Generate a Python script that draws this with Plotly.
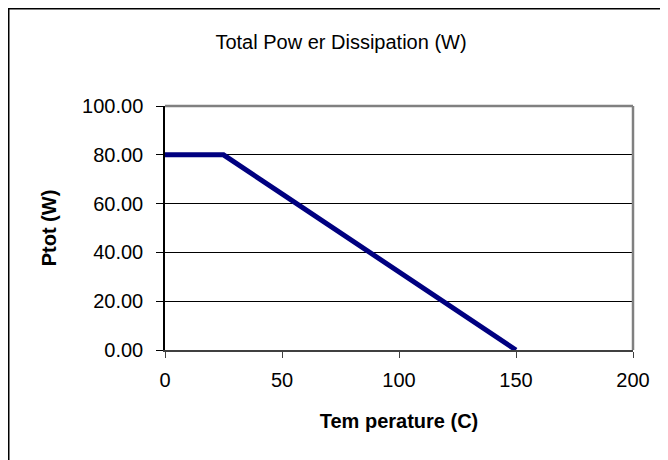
import plotly.graph_objects as go

temperature = [0, 25, 50, 75, 100, 125, 150]
ptot = [80, 80, 64, 48, 32, 16, 0]

x_ticks = [0, 50, 100, 150, 200]
y_ticks = [0, 20, 40, 60, 80, 100]
y_tick_labels = ["0.00", "20.00", "40.00", "60.00", "80.00", "100.00"]

# page body has an 8px margin, so the figure is sized to fit the 668x460 window
W, H = 660, 452
L, R, T, B = 157, 35, 98, 110
pw, ph = W - L - R, H - T - B

def px_x(p):
    return (p - L) / pw

def px_y(p):
    return (H - B - p) / ph

fig = go.Figure()
fig.add_trace(go.Scatter(
    x=temperature, y=ptot, mode="lines",
    line=dict(color="#000080", width=5),
    hoverinfo="x+y", showlegend=False,
))

font = "Liberation Sans, Arial, sans-serif"

fig.update_layout(
    width=W, height=H,
    margin=dict(l=L, r=R, t=T, b=B, autoexpand=False),
    paper_bgcolor="white", plot_bgcolor="white",
    font=dict(family=font, color="black"),
    title=dict(text="Total Pow er Dissipation (W)", x=333 / W,
               xanchor="center", y=1 - 34 / H, yanchor="middle",
               font=dict(size=20, family=font, color="black")),
    xaxis=dict(
        range=[0, 200], tickvals=x_ticks, ticktext=[str(v) for v in x_ticks],
        showgrid=False, zeroline=False,
        showline=True, linecolor="#404040", linewidth=2,
        ticks="outside", ticklen=6, tickcolor="#404040", tickwidth=1,
        tickfont=dict(size=20, family=font),
        ticklabelstandoff=5,
        title=dict(text="<b>Tem perature (C)</b>", font=dict(size=20, family=font), standoff=24),
    ),
    yaxis=dict(
        range=[0, 100], tickvals=y_ticks, ticktext=y_tick_labels,
        showgrid=True, gridcolor="black", gridwidth=1, zeroline=False,
        showline=True, linecolor="black", linewidth=1.5,
        ticks="outside", ticklen=7, tickcolor="black", tickwidth=1,
        tickfont=dict(size=20, family=font),
        ticklabelstandoff=9,
        title=dict(text="<b>Ptot (W)</b>", font=dict(size=20, family=font), standoff=20),
    ),
    shapes=[
        # plot area top and right border (gray)
        dict(type="line", xref="paper", yref="paper", x0=0, x1=1, y0=1, y1=1,
             line=dict(color="#808080", width=2.5), layer="above"),
        dict(type="line", xref="paper", yref="paper", x0=1, x1=1, y0=0, y1=1,
             line=dict(color="#808080", width=2.5), layer="above"),
        # outer chart border (top and left)
        dict(type="line", xref="paper", yref="paper", x0=px_x(0), x1=px_x(W + 10),
             y0=px_y(0), y1=px_y(0), line=dict(color="black", width=3)),
        dict(type="line", xref="paper", yref="paper", x0=px_x(0), x1=px_x(0),
             y0=px_y(0), y1=px_y(H + 10), line=dict(color="black", width=3)),
    ],
)

fig.write_html("out.html")
